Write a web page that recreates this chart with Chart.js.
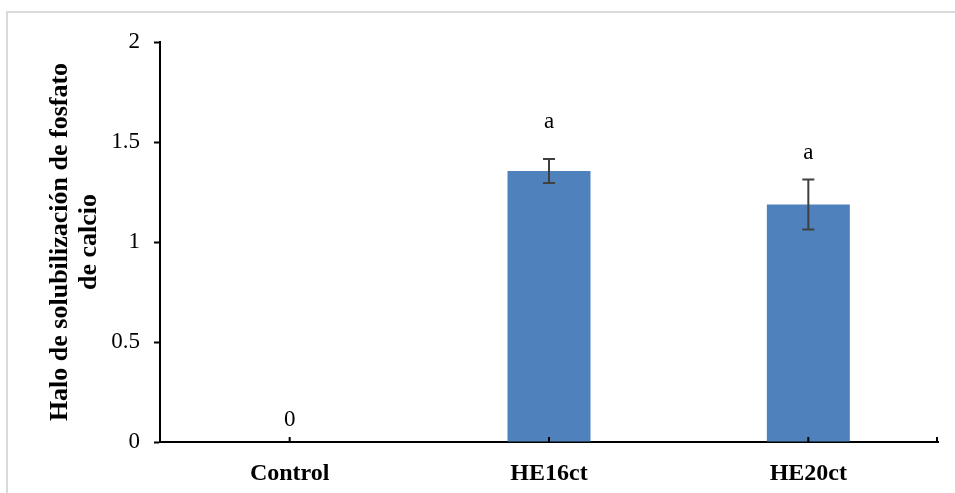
<!DOCTYPE html>
<html>
<head>
<meta charset="utf-8">
<script src="https://cdn.jsdelivr.net/npm/chart.js@4"></script>
<style>
  html, body { margin: 0; padding: 0; background: #fff; }
  #wrap { position: relative; width: 955px; height: 493px; overflow: hidden; }
  #frame { position: absolute; left: 6px; top: 11px; width: 1000px; height: 600px;
           border-left: 2px solid #d9d9d9; border-top: 2px solid #d9d9d9; }
  canvas { position: absolute; left: 0; top: 0; }
</style>
</head>
<body>
<div id="wrap">
  <div id="frame"></div>
  <canvas id="c" width="955" height="493"></canvas>
</div>
<script>
const categories = ["Control", "HE16ct", "HE20ct"];
const values = [0, 1.355, 1.187];
const errors = [0, 0.06, 0.125];
const letters = ["0", "a", "a"];
const yTicks = [0, 0.5, 1, 1.5, 2];

const SERIF = '"Liberation Serif", "Times New Roman", serif';

const errorBarPlugin = {
  id: 'errorBars',
  afterDatasetsDraw(chart) {
    const ctx = chart.ctx;
    const meta = chart.getDatasetMeta(0);
    const ys = chart.scales.y;
    ctx.save();
    ctx.strokeStyle = '#404040';
    ctx.lineWidth = 2;
    meta.data.forEach((bar, i) => {
      const e = errors[i];
      if (!e) return;
      const x = bar.x;
      const top = ys.getPixelForValue(values[i] + e);
      const bot = ys.getPixelForValue(values[i] - e);
      ctx.beginPath();
      ctx.moveTo(x, top); ctx.lineTo(x, bot);
      ctx.moveTo(x - 6, top); ctx.lineTo(x + 6, top);
      ctx.moveTo(x - 6, bot); ctx.lineTo(x + 6, bot);
      ctx.stroke();
    });
    // letters
    const gaps = [16, 31, 21];
    ctx.fillStyle = '#000';
    ctx.font = '23px ' + SERIF;
    ctx.textAlign = 'center';
    ctx.textBaseline = 'alphabetic';
    meta.data.forEach((bar, i) => {
      const top = ys.getPixelForValue(values[i] + errors[i]);
      ctx.fillText(letters[i], bar.x, top - gaps[i]);
    });
    // x-axis tick marks (pointing up)
    const xs = chart.scales.x;
    const axisY = chart.chartArea.bottom;
    ctx.strokeStyle = '#000';
    ctx.lineWidth = 2;
    ctx.beginPath();
    categories.forEach((c, i) => {
      const x = xs.getPixelForValue(i);
      ctx.moveTo(x, axisY); ctx.lineTo(x, axisY - 5);
    });
    ctx.moveTo(chart.chartArea.right - 1, axisY); ctx.lineTo(chart.chartArea.right - 1, axisY - 5);
    ctx.stroke();
    ctx.restore();
  }
};

new Chart(document.getElementById('c'), {
  type: 'bar',
  data: {
    labels: categories,
    datasets: [{
      data: values,
      backgroundColor: '#4F81BD',
      borderWidth: 0,
      categoryPercentage: 1,
      barPercentage: 0.32
    }]
  },
  options: {
    responsive: false,
    animation: false,
    devicePixelRatio: 1,
    layout: { padding: { top: 42, right: 17, bottom: 0, left: 0 } },
    plugins: { legend: { display: false }, tooltip: { enabled: false } },
    scales: {
      x: {
        afterFit(scale) { scale.height = 51; },
        grid: { display: false },
        border: { display: true, color: '#000', width: 2 },
        ticks: { color: '#000', padding: 9, font: { family: SERIF, size: 24, weight: 'bold' } }
      },
      y: {
        min: 0, max: 2,
        afterFit(scale) { scale.width = 160; },
        afterBuildTicks(scale) { scale.ticks = yTicks.map(v => ({ value: v })); },
        grid: { drawOnChartArea: false, drawTicks: true, tickLength: 6, tickColor: '#000', tickWidth: 2 },
        border: { display: true, color: '#000', width: 2 },
        ticks: {
          color: '#000', padding: 14,
          font: { family: SERIF, size: 23 },
          callback: v => String(v)
        },
        title: {
          display: true,
          text: ['Halo de solubilización de fosfato', 'de calcio'],
          color: '#000',
          font: { family: SERIF, size: 26, weight: 'bold', lineHeight: 1.1 },
          padding: { top: 46, bottom: 0 }
        }
      }
    }
  },
  plugins: [errorBarPlugin]
});
</script>
</body>
</html>
